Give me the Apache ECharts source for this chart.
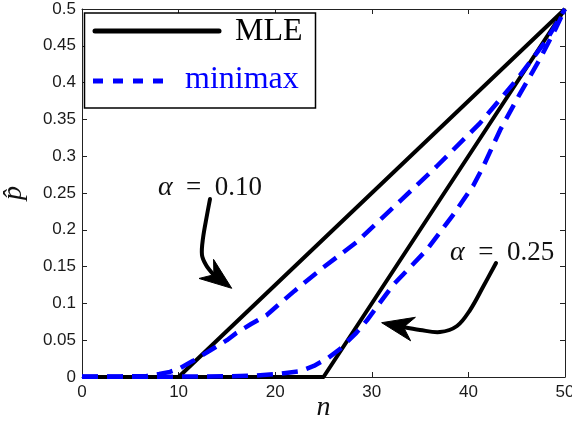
<!DOCTYPE html>
<html><head><meta charset="utf-8">
<script src="https://cdn.jsdelivr.net/npm/echarts@6/dist/echarts.min.js"></script>
<style>html,body{margin:0;padding:0;background:#fff}#c{width:572px;height:424px}</style>
</head><body><div id="c"></div>
<script>
// ---- data ----
const mleN10 = [0, 10, 50];
const mleP10 = [0, 0, 0.5];
const mleN25 = [0, 25, 50];
const mleP25 = [0, 0, 0.5];
const mmN10 = [0, 4, 6.7, 8, 9.1, 10, 11.5, 13.25, 15, 16, 17.5, 19.1, 22, 24.6, 28.4, 33, 36.7, 41.2, 45, 48.1, 50];
const mmP10 = [0.0006, 0.0008, 0.0014, 0.004, 0.007, 0.011, 0.022, 0.036, 0.05, 0.06, 0.072, 0.084, 0.117, 0.145, 0.183, 0.24, 0.286, 0.345, 0.404, 0.458, 0.5];
const mmN25 = [0, 10, 15, 18, 20.2, 22.6, 24, 25.5, 26.7, 28.4, 29.5, 32.2, 35.7, 38.4, 40.5, 41.5, 43.3, 45.3, 47.4, 49.1, 50];
const mmP25 = [0.0005, 0.0005, 0.001, 0.002, 0.004, 0.008, 0.015, 0.026, 0.038, 0.06, 0.077, 0.125, 0.173, 0.22, 0.26, 0.285, 0.336, 0.384, 0.432, 0.475, 0.5];
const seriesNames = ['MLE', 'minimax'];
const annotationLabels = ['{a|α}\u2002=\u20020.10', '{a|α}\u2002=\u20020.25'];
const xName = 'n';
const yName = 'p\u0302';

// ---- layout (annotation geometry in data coordinates) ----
const annot = [
  { text: [13.25, 0.2568], shaft: [[13.25,0.2418],[12.94,0.2201],[12.53,0.1889],[12.42,0.1658],[12.84,0.1522],[13.56,0.1399]], tip: [15.5,0.1205] },
  { text: [43.5, 0.1685], shaft: [[42.86,0.1549],[41.51,0.1223],[40.17,0.0910],[38.82,0.0693],[37.06,0.0611],[34.99,0.0639],[33.23,0.0679]], tip: [31.02,0.0738] }
];

const pairs = (a, b) => a.map((v, i) => [v, b[i]]);
const chart = echarts.init(document.getElementById('c'), null, { renderer: 'canvas' });
const axisColor = '#222';
const tickFont = { fontFamily: '"Liberation Sans", Arial, sans-serif', fontSize: 17, color: '#1a1a1a' };
const serif = '"Liberation Serif", "Times New Roman", serif';
const BLUE = '#0000ff';

function xAx(pos) {
  return {
    type: 'value', position: pos, min: 0, max: 50, interval: 10,
    axisLine: { show: true, onZero: false, lineStyle: { color: axisColor, width: 1 } },
    axisTick: { show: true, inside: true, length: 5, lineStyle: { color: axisColor } },
    splitLine: { show: false },
    axisLabel: pos === 'bottom' ? { ...tickFont, margin: 7 } : { show: false }
  };
}
function yAx(pos) {
  return {
    type: 'value', position: pos, min: 0, max: 0.5, interval: 0.05,
    axisLine: { show: true, onZero: false, lineStyle: { color: axisColor, width: 1 } },
    axisTick: { show: true, inside: true, length: 5, lineStyle: { color: axisColor } },
    splitLine: { show: false },
    axisLabel: pos === 'left' ? { ...tickFont, margin: 6 } : { show: false }
  };
}
const xBottom = Object.assign(xAx('bottom'), { name: xName, nameLocation: 'middle', nameGap: 17, nameMoveOverlap: false,
  nameTextStyle: { fontFamily: serif, fontStyle: 'italic', fontSize: 28, color: '#111' } });
const yLeft = Object.assign(yAx('left'), { name: yName, nameLocation: 'middle', nameGap: 54, nameRotate: 90, nameMoveOverlap: false,
  nameTextStyle: { fontFamily: serif, fontStyle: 'italic', fontSize: 28, color: '#111' } });

const blackLine = { color: '#000', width: 4, cap: 'butt', join: 'round' };
const blueLine = { color: BLUE, width: 4.5, type: [16, 9], cap: 'butt', join: 'round' };

const option = {
  animation: false,
  grid: { left: 82, right: 7, top: 9, bottom: 47, outerBoundsMode: 'none', containLabel: false },
  xAxis: [xBottom, xAx('top')],
  yAxis: [yLeft, yAx('right')],
  series: [
    { name: seriesNames[0], type: 'line', data: pairs(mleN10, mleP10), showSymbol: false, symbol: 'none', lineStyle: blackLine, z: 2 },
    { name: seriesNames[0], type: 'line', data: pairs(mleN25, mleP25), showSymbol: false, symbol: 'none', lineStyle: blackLine, z: 2 },
    { name: seriesNames[1], type: 'line', data: pairs(mmN10, mmP10), showSymbol: false, symbol: 'none', smooth: false, lineStyle: blueLine, z: 3 },
    { name: seriesNames[1], type: 'line', data: pairs(mmN25, mmP25), showSymbol: false, symbol: 'none', smooth: false, lineStyle: blueLine, z: 3 }
  ]
};
chart.setOption(option);

// ---- annotations & legend ----
const toPx = (pt) => chart.convertToPixel({ xAxisIndex: 0, yAxisIndex: 0 }, pt);
const gfx = [];
annot.forEach((a, i) => {
  const tp = toPx(a.text);
  gfx.push({ type: 'text', x: tp[0], y: tp[1], z: 50,
    style: { text: annotationLabels[i], font: '27px ' + serif, fill: '#111', align: 'center', verticalAlign: 'middle',
      rich: { a: { fontStyle: 'italic', fontSize: 28, fontFamily: serif } } } });
  const pts = a.shaft.map(toPx);
  const T = toPx(a.tip);
  const last = pts[pts.length - 1];
  let dx = T[0] - last[0], dy = T[1] - last[1];
  const len = Math.hypot(dx, dy); dx /= len; dy /= len;
  const nx = -dy, ny = dx, L = 32, W = 12;
  gfx.push({ type: 'polyline', z: 50, shape: { points: pts, smooth: 0.35 },
    style: { stroke: '#000', lineWidth: 4, fill: null, lineCap: 'round' } });
  gfx.push({ type: 'polygon', z: 50, shape: { points: [
      T, [T[0] - L*dx + W*nx, T[1] - L*dy + W*ny], [T[0] - 0.7*L*dx, T[1] - 0.7*L*dy], [T[0] - L*dx - W*nx, T[1] - L*dy - W*ny]] },
    style: { fill: '#000', stroke: '#000', lineWidth: 1 } });
});
// legend box
gfx.push({ type: 'rect', z: 60, shape: { x: 84.5, y: 13, width: 231, height: 95 }, style: { fill: '#fff', stroke: '#000', lineWidth: 1.5 } });
gfx.push({ type: 'line', z: 61, shape: { x1: 95, y1: 31, x2: 219, y2: 31 }, style: { stroke: '#000', lineWidth: 5, lineCap: 'round' } });
gfx.push({ type: 'text', z: 61, x: 235, y: 32, style: { text: seriesNames[0], font: '32px ' + serif, fill: '#000', align: 'left', verticalAlign: 'middle' } });
gfx.push({ type: 'line', z: 61, shape: { x1: 93, y1: 81, x2: 165, y2: 81 }, style: { stroke: BLUE, lineWidth: 5, lineDash: [10, 10], lineCap: 'butt' } });
gfx.push({ type: 'text', z: 61, x: 185, y: 80, style: { text: seriesNames[1], font: '32px ' + serif, fill: BLUE, align: 'left', verticalAlign: 'middle' } });
chart.setOption({ graphic: gfx });
</script></body></html>
